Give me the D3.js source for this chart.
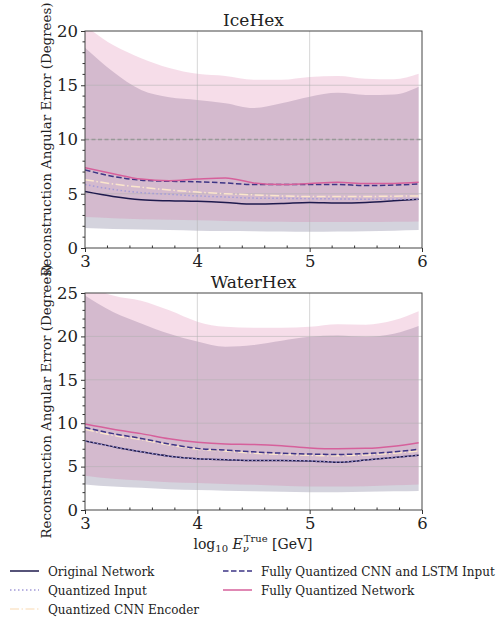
<!DOCTYPE html>
<html>
<head>
<meta charset="utf-8">
<script src="https://cdn.jsdelivr.net/npm/d3@7"></script>
<style>
  body { margin: 0; background: #fff; }
  svg text { font-family: "DejaVu Serif", serif; }
</style>
</head>
<body>
<svg width="499" height="617"></svg>
<script>
'use strict';

// energy bins (log10 E / GeV)
var energy = [3, 3.25, 3.5, 3.75, 4, 4.25, 4.5, 4.75, 5, 5.25, 5.5, 5.75, 5.97];

// IceHex medians
var iceOriginal  = [5.2, 4.75, 4.45, 4.35, 4.3, 4.2, 4.05, 4.1, 4.2, 4.15, 4.2, 4.35, 4.5];
var iceQInput    = [5.85, 5.4, 5.1, 4.95, 4.8, 4.7, 4.6, 4.58, 4.55, 4.52, 4.5, 4.5, 4.5];
var iceQCNN      = [6.3, 5.9, 5.6, 5.35, 5.15, 5.0, 4.9, 4.8, 4.75, 4.75, 4.75, 4.78, 4.8];
var iceQCNNLSTM  = [7.2, 6.6, 6.25, 6.15, 6.1, 6.0, 5.85, 5.85, 5.85, 5.85, 5.75, 5.8, 5.9];
var iceQFull     = [7.4, 6.85, 6.35, 6.2, 6.35, 6.45, 6.0, 5.85, 5.95, 6.05, 5.95, 5.95, 6.05];
// IceHex spread bands
var iceOrigLow   = [1.85, 1.75, 1.7, 1.65, 1.6, 1.57, 1.55, 1.52, 1.5, 1.52, 1.55, 1.6, 1.65];
var iceOrigHigh  = [18.46, 16.25, 14.57, 13.9, 13.65, 13.35, 12.9, 13.35, 13.95, 14.3, 14.1, 14.15, 14.87];
var iceFullLow   = [2.85, 2.75, 2.65, 2.6, 2.55, 2.5, 2.45, 2.42, 2.4, 2.4, 2.4, 2.42, 2.45];
var iceFullHigh  = [20.5, 18.7, 17.5, 16.6, 16.05, 15.85, 15.5, 15.5, 15.75, 15.85, 15.6, 15.55, 16.05];

// WaterHex medians
var waterOriginal = [7.95, 7.3, 6.7, 6.2, 5.9, 5.8, 5.7, 5.7, 5.65, 5.5, 5.75, 6.05, 6.3];
var waterQInput   = [7.95, 7.3, 6.72, 6.2, 5.9, 5.82, 5.72, 5.72, 5.67, 5.52, 5.75, 6.05, 6.3];
var waterQCNN     = [9.3, 8.6, 8.1, 7.5, 7.0, 6.8, 6.55, 6.4, 6.3, 6.25, 6.35, 6.55, 6.8];
var waterQCNNLSTM = [9.5, 8.8, 8.25, 7.6, 7.1, 6.9, 6.7, 6.55, 6.45, 6.4, 6.5, 6.7, 7.0];
var waterQFull    = [9.9, 9.3, 8.8, 8.2, 7.8, 7.6, 7.55, 7.4, 7.15, 7.05, 7.1, 7.35, 7.75];
// WaterHex spread bands
var waterOrigLow  = [2.95, 2.7, 2.55, 2.4, 2.3, 2.22, 2.15, 2.1, 2.05, 2.05, 2.1, 2.15, 2.2];
var waterOrigHigh = [24.7, 22.8, 21.5, 20.3, 19.4, 18.8, 19.0, 19.5, 19.95, 20.1, 19.95, 20.3, 21.2];
var waterFullLow  = [3.95, 3.6, 3.4, 3.2, 3.1, 3.0, 2.9, 2.8, 2.7, 2.7, 2.75, 2.85, 2.95];
var waterFullHigh = [26, 24.7, 24.1, 23.0, 21.7, 21.1, 21.0, 21.0, 21.1, 21.4, 21.35, 21.85, 22.9];

var xTicks = [3, 4, 5, 6];
var iceYTicks = [0, 5, 10, 15, 20];
var waterYTicks = [0, 5, 10, 15, 20, 25];

var seriesNames = ['Original Network', 'Quantized Input', 'Quantized CNN Encoder',
                   'Fully Quantized CNN and LSTM Input', 'Fully Quantized Network'];
var seriesColors = ['#1e1a4d', '#a39bd8', '#fbe6cc', '#3d3585', '#d6609b'];
var seriesDash = [null, '1.5,2.5', '9,2.5,1.5,2.5', '5.5,2.5', null];

var FONT = '"DejaVu Serif", serif';
var svg = d3.select('svg');
var LEFT = 85, RIGHT = 422;

var x = d3.scaleLinear().domain([3, 6]).range([LEFT, RIGHT]);

function drawPanel(cfg) {
    var y = d3.scaleLinear().domain([0, cfg.ymax]).range([cfg.bottom, cfg.top]);
    var g = svg.append('g');
    var clipId = 'clip' + cfg.top;
    g.append('clipPath').attr('id', clipId).append('rect')
        .attr('x', LEFT).attr('y', cfg.top).attr('width', RIGHT - LEFT).attr('height', cfg.bottom - cfg.top);

    var inner = g.append('g').attr('clip-path', 'url(#' + clipId + ')');

    // bands
    var area = function (lo, hi) {
        return d3.area().curve(d3.curveMonotoneX)
            .x(function (d, i) { return x(energy[i]); })
            .y0(function (d, i) { return y(lo[i]); })
            .y1(function (d, i) { return y(hi[i]); })(energy);
    };
    inner.append('path').attr('d', area(cfg.origLow, cfg.origHigh))
        .attr('fill', '#1b1449').attr('fill-opacity', 0.19);
    inner.append('path').attr('d', area(cfg.fullLow, cfg.fullHigh))
        .attr('fill', '#d55f99').attr('fill-opacity', 0.21);

    // grid
    inner.selectAll('.gx').data([4, 5]).enter().append('line')
        .attr('x1', x).attr('x2', x).attr('y1', cfg.top).attr('y2', cfg.bottom)
        .attr('stroke', '#b0b0b0').attr('stroke-opacity', 0.6).attr('stroke-width', 0.9);
    inner.selectAll('.gy').data(cfg.yTicks.slice(1, -1)).enter().append('line')
        .attr('x1', LEFT).attr('x2', RIGHT).attr('y1', y).attr('y2', y)
        .attr('stroke', '#b0b0b0').attr('stroke-opacity', 0.6).attr('stroke-width', 0.9);

    if (cfg.refLine) {
        inner.append('line').attr('x1', LEFT).attr('x2', RIGHT)
            .attr('y1', y(cfg.refLine)).attr('y2', y(cfg.refLine))
            .attr('stroke', '#999').attr('stroke-width', 1.4).attr('stroke-dasharray', '4,2.5');
    }

    // median lines
    cfg.lines.forEach(function (vals, k) {
        var line = d3.line().curve(d3.curveMonotoneX)
            .x(function (d, i) { return x(energy[i]); })
            .y(function (d) { return y(d); });
        inner.append('path').attr('d', line(vals))
            .attr('fill', 'none').attr('stroke', seriesColors[k]).attr('stroke-width', 1.5)
            .attr('stroke-dasharray', seriesDash[k]);
    });

    // frame
    g.append('rect').attr('x', LEFT).attr('y', cfg.top).attr('width', RIGHT - LEFT)
        .attr('height', cfg.bottom - cfg.top).attr('fill', 'none').attr('stroke', '#444').attr('stroke-width', 1);

    // axes
    var xAxis = d3.axisBottom(x).tickValues(xTicks).tickFormat(d3.format('d')).tickSize(4).tickPadding(3);
    var gx = g.append('g').attr('transform', 'translate(0,' + cfg.bottom + ')').call(xAxis);
    var yAxis = d3.axisLeft(y).tickValues(cfg.yTicks).tickFormat(d3.format('d')).tickSize(4).tickPadding(3);
    var gy = g.append('g').attr('transform', 'translate(' + LEFT + ',0)').call(yAxis);
    [gx, gy].forEach(function (a) {
        a.attr('font-family', FONT);
        a.select('.domain').remove();
        a.selectAll('line').attr('stroke', '#333');
        a.selectAll('text').attr('font-size', 16.5).attr('fill', '#222').attr('font-family', FONT);
    });

    // minor ticks
    var xMinor = d3.range(3.2, 6, 0.2).filter(function (v) { return Math.abs(v - Math.round(v)) > 0.01; });
    g.selectAll('.mx').data(xMinor).enter().append('line')
        .attr('x1', x).attr('x2', x).attr('y1', cfg.bottom - 2.5).attr('y2', cfg.bottom)
        .attr('stroke', '#333').attr('stroke-width', 1);
    var yMinor = d3.range(1, cfg.ymax, 1).filter(function (v) { return v % 5 !== 0; });
    g.selectAll('.my').data(yMinor).enter().append('line')
        .attr('x1', LEFT - 2.5).attr('x2', LEFT).attr('y1', y).attr('y2', y)
        .attr('stroke', '#333').attr('stroke-width', 1);

    // title and y label
    g.append('text').attr('x', (LEFT + RIGHT) / 2).attr('y', cfg.top - 5)
        .attr('text-anchor', 'middle').attr('font-size', 17).attr('fill', '#222')
        .attr('font-family', FONT).text(cfg.title);
    g.append('text')
        .attr('transform', 'translate(51,' + ((cfg.top + cfg.bottom) / 2) + ') rotate(-90)')
        .attr('text-anchor', 'middle').attr('font-size', 13.4).attr('fill', '#222')
        .attr('font-family', FONT)
        .text('Reconstruction Angular Error (Degrees)');
}

drawPanel({
    title: 'IceHex', top: 31, bottom: 248, ymax: 20, yTicks: iceYTicks, refLine: 10,
    origLow: iceOrigLow, origHigh: iceOrigHigh, fullLow: iceFullLow, fullHigh: iceFullHigh,
    lines: [iceOriginal, iceQInput, iceQCNN, iceQCNNLSTM, iceQFull]
});
drawPanel({
    title: 'WaterHex', top: 293, bottom: 510, ymax: 25, yTicks: waterYTicks, refLine: null,
    origLow: waterOrigLow, origHigh: waterOrigHigh, fullLow: waterFullLow, fullHigh: waterFullHigh,
    lines: [waterOriginal, waterQInput, waterQCNN, waterQCNNLSTM, waterQFull]
});

// x axis label
var xl = svg.append('text').attr('x', 253).attr('y', 549).attr('text-anchor', 'middle')
    .attr('font-size', 14).attr('fill', '#222').attr('font-family', FONT);
xl.append('tspan').text('log');
xl.append('tspan').attr('font-size', 10).attr('dy', 3).text('10');
xl.append('tspan').attr('dy', -3).text(' ');
xl.append('tspan').attr('font-style', 'italic').text('E');
xl.append('tspan').attr('font-style', 'italic').attr('font-size', 10).attr('dy', 3).text('\u03bd');
xl.append('tspan').attr('font-size', 10).attr('dx', -5).attr('dy', -10).text('True');
xl.append('tspan').attr('dy', 7).text(' [GeV]');

// legend
var legendPos = [[10, 571], [10, 590], [10, 609], [223, 571], [223, 590]];
seriesNames.forEach(function (name, k) {
    var p = legendPos[k];
    svg.append('line').attr('x1', p[0]).attr('x2', p[0] + 29).attr('y1', p[1]).attr('y2', p[1])
        .attr('stroke', seriesColors[k]).attr('stroke-width', 1.5).attr('stroke-dasharray', seriesDash[k]);
    svg.append('text').attr('x', p[0] + 38).attr('y', p[1] + 4.5).attr('font-size', 12)
        .attr('fill', '#222').attr('font-family', FONT).text(name);
});
</script>
</body>
</html>
